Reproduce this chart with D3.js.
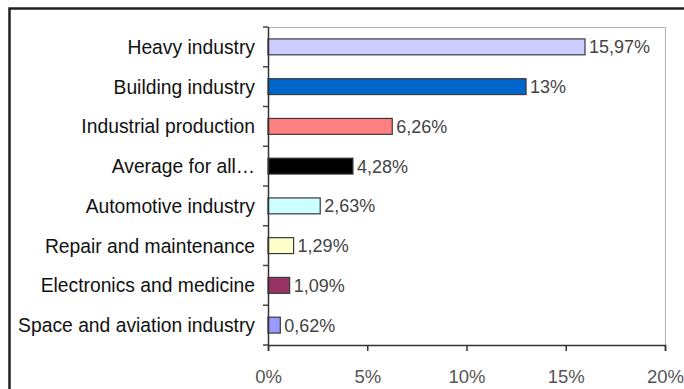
<!DOCTYPE html>
<html>
<head>
<meta charset="utf-8">
<script src="https://cdn.jsdelivr.net/npm/d3@7"></script>
<style>
  html, body { margin: 0; padding: 0; background: #fff; }
  svg { display: block; }
</style>
</head>
<body>
<svg id="chart" width="684" height="389"></svg>
<script>
// Share by sector (percent)
const categories = [
  "Heavy industry",
  "Building industry",
  "Industrial production",
  "Average for all\u2026",
  "Automotive industry",
  "Repair and maintenance",
  "Electronics and medicine",
  "Space and aviation industry"
];
const values = [15.97, 13, 6.26, 4.28, 2.63, 1.29, 1.09, 0.62];
const valueLabels = ["15,97%", "13%", "6,26%", "4,28%", "2,63%", "1,29%", "1,09%", "0,62%"];
const barColors = ["#ccccff", "#0066cc", "#ff8080", "#000000", "#ccffff", "#ffffcc", "#993366", "#9999ff"];
const xTicks = [0, 5, 10, 15, 20];
const xTickLabels = ["0%", "5%", "10%", "15%", "20%"];

const svg = d3.select("#chart");
const font = "'Liberation Sans', Arial, sans-serif";

// outer frame
svg.append("rect")
  .attr("x", 9.5).attr("y", 8.5)
  .attr("width", 700).attr("height", 400)
  .attr("fill", "none")
  .attr("stroke", "#222")
  .attr("stroke-width", 2.5);

const plot = { left: 268, right: 665, top: 27, bottom: 345 };

const x = d3.scaleLinear().domain([0, 20]).range([plot.left, plot.right]);
const y = d3.scaleBand()
  .domain(categories)
  .range([plot.top, plot.bottom])
  .paddingInner(0.6)
  .paddingOuter(0.3);

// plot frame: top and right edges
svg.append("path")
  .attr("d", `M${plot.left},${plot.top + 0.5}H${plot.right + 0.5}V${plot.bottom}`)
  .attr("fill", "none")
  .attr("stroke", "#b0b0b0")
  .attr("stroke-width", 1);

// bars
svg.append("g").selectAll("rect")
  .data(categories)
  .join("rect")
  .attr("x", x(0))
  .attr("y", d => y(d))
  .attr("width", (d, i) => x(values[i]) - x(0))
  .attr("height", y.bandwidth())
  .attr("fill", (d, i) => barColors[i])
  .attr("stroke", "#3a3a3a")
  .attr("stroke-width", 1.2);

// value labels
svg.append("g").selectAll("text")
  .data(categories)
  .join("text")
  .attr("x", (d, i) => x(values[i]) + 4)
  .attr("y", d => y(d) + y.bandwidth() / 2)
  .attr("dy", "0.36em")
  .attr("font-family", font)
  .attr("font-size", 18)
  .attr("fill", "#444")
  .text((d, i) => valueLabels[i]);

// left axis with category labels
const yAxis = svg.append("g")
  .attr("transform", `translate(${plot.left},0)`);
yAxis.append("line")
  .attr("x1", 0.5).attr("x2", 0.5)
  .attr("y1", plot.top).attr("y2", plot.bottom)
  .attr("stroke", "#333").attr("stroke-width", 1.5);
const boundaries = d3.range(categories.length + 1).map(i => plot.top + i * (plot.bottom - plot.top) / categories.length);
yAxis.selectAll("line.tick")
  .data(boundaries)
  .join("line")
  .attr("class", "tick")
  .attr("x1", -5).attr("x2", 0)
  .attr("y1", d => d).attr("y2", d => d)
  .attr("stroke", "#444").attr("stroke-width", 1.5);
yAxis.selectAll("text")
  .data(categories)
  .join("text")
  .attr("x", -13)
  .attr("y", d => y(d) + y.bandwidth() / 2)
  .attr("dy", "0.36em")
  .attr("text-anchor", "end")
  .attr("font-family", font)
  .attr("font-size", 19.3)
  .attr("fill", "#111")
  .text(d => d);

// bottom axis
const xAxis = svg.append("g")
  .attr("transform", `translate(0,${plot.bottom})`)
  .call(d3.axisBottom(x).tickValues(xTicks).tickFormat((d, i) => xTickLabels[i]).tickSize(6).tickPadding(19));
xAxis.select(".domain").attr("stroke", "#333").attr("stroke-width", 1.5);
xAxis.selectAll(".tick line").attr("stroke", "#333").attr("stroke-width", 1.5);
xAxis.selectAll(".tick text")
  .attr("font-family", font)
  .attr("font-size", 18.5)
  .attr("fill", "#555");
</script>
</body>
</html>
